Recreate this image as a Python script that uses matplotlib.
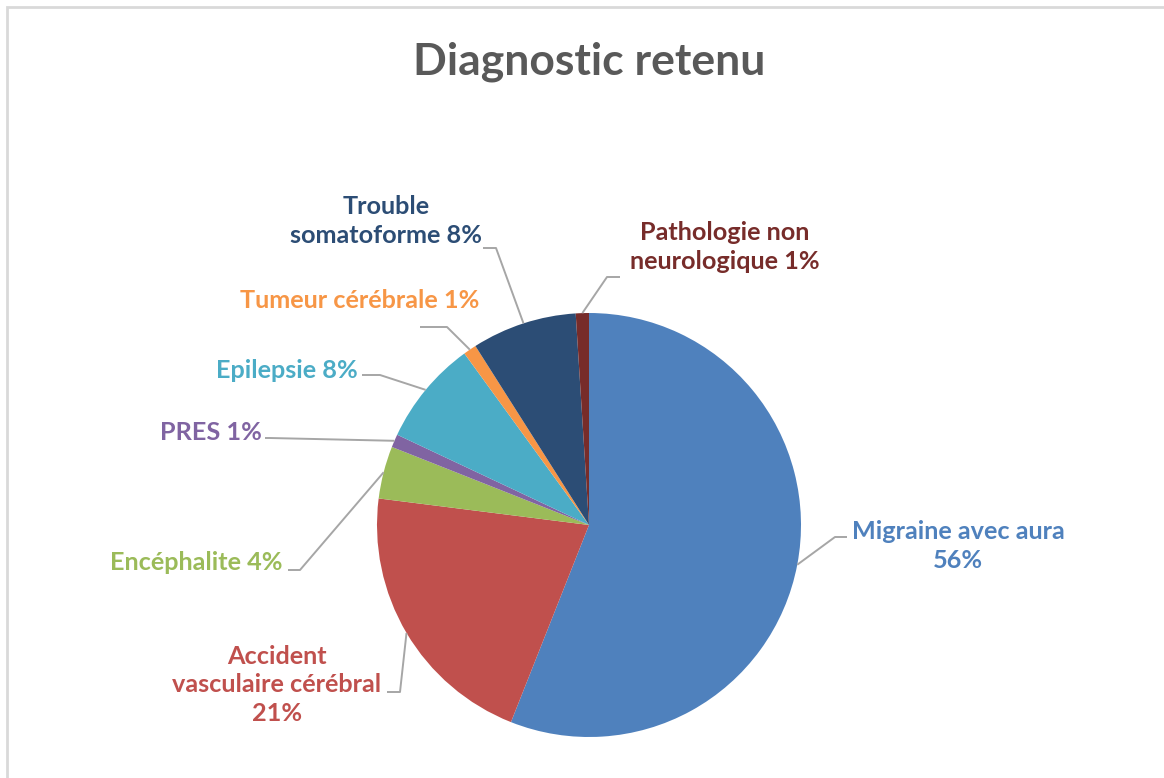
import matplotlib
matplotlib.use("Agg")
import matplotlib.pyplot as plt
import numpy as np
from matplotlib.patches import Rectangle

# ---- data ----
categories = ["Migraine avec aura", "Accident\nvasculaire cérébral", "Encéphalite", "PRES",
              "Epilepsie", "Tumeur cérébrale", "Trouble\nsomatoforme", "Pathologie non\nneurologique"]
percent = [56, 21, 4, 1, 8, 1, 8, 1]
label_texts = ["Migraine avec aura\n56%", "Accident\nvasculaire cérébral\n21%", "Encéphalite 4%",
               "PRES 1%", "Epilepsie 8%", "Tumeur cérébrale 1%", "Trouble\nsomatoforme 8%",
               "Pathologie non\nneurologique 1%"]
colors = ["#4F81BD", "#C0504D", "#9BBB59", "#8064A2", "#4BACC6", "#F79646", "#2C4D75", "#772C2A"]
title = "Diagnostic retenu"

W, H = 1164, 778
fig = plt.figure(figsize=(W / 100, H / 100), dpi=100)
ax = fig.add_axes([0, 0, 1, 1])

def P(x, y):
    return (x, H - y)

cx, cy = P(589, 525)
R = 212
wedges, _ = ax.pie(percent, colors=colors, startangle=90, counterclock=False,
                   center=(cx, cy), radius=R, wedgeprops=dict(linewidth=0),
                   frame=True)
ax.set_xlim(0, W)
ax.set_ylim(0, H)
ax.set_aspect("equal")
ax.axis("off")

# label layout (pixel positions): text centre, elbow, line end near text
text_pos = [(958, 546), (277, 685), (196, 562), (211, 432), (287, 370), (360, 300), (386, 221), (725, 247)]
line_end = [(847, 537), (387, 692), (288, 570), (265, 438), (362, 375), (420, 327), (483, 248), (620, 277)]
elbow = [(835, 537), (400, 692), (300, 570), (270, 438), (380, 375), (447, 327), (496, 248), (607, 277)]

font = ["Lato", "DejaVu Sans"]
for w, txt, col, tp, le, eb in zip(wedges, label_texts, colors, text_pos, line_end, elbow):
    th = np.deg2rad((w.theta1 + w.theta2) / 2)
    ax_ = cx + R * np.cos(th)
    ay_ = cy + R * np.sin(th)
    e = P(*eb)
    l = P(*le)
    ax.plot([ax_, e[0], l[0]], [ay_, e[1], l[1]], color="#A6A6A6", lw=1.4, clip_on=False,
            solid_capstyle="butt", zorder=1)
    t = P(*tp)
    ax.text(t[0], t[1], txt, color=col, ha="center", va="center", multialignment="center",
            fontsize=18.2, fontweight="bold", family=font, linespacing=1.27)

ax.text(*P(589, 62), title, ha="center", va="center", fontsize=32, fontweight="bold",
        color="#595959", family=font)

fig.patches.append(Rectangle((7 / W, -0.05), 1.1, (H - 7) / H + 0.05, transform=fig.transFigure,
                             fill=False, edgecolor="#D9D9D9", lw=2))

fig.savefig("out.png", dpi=100, facecolor="white")
